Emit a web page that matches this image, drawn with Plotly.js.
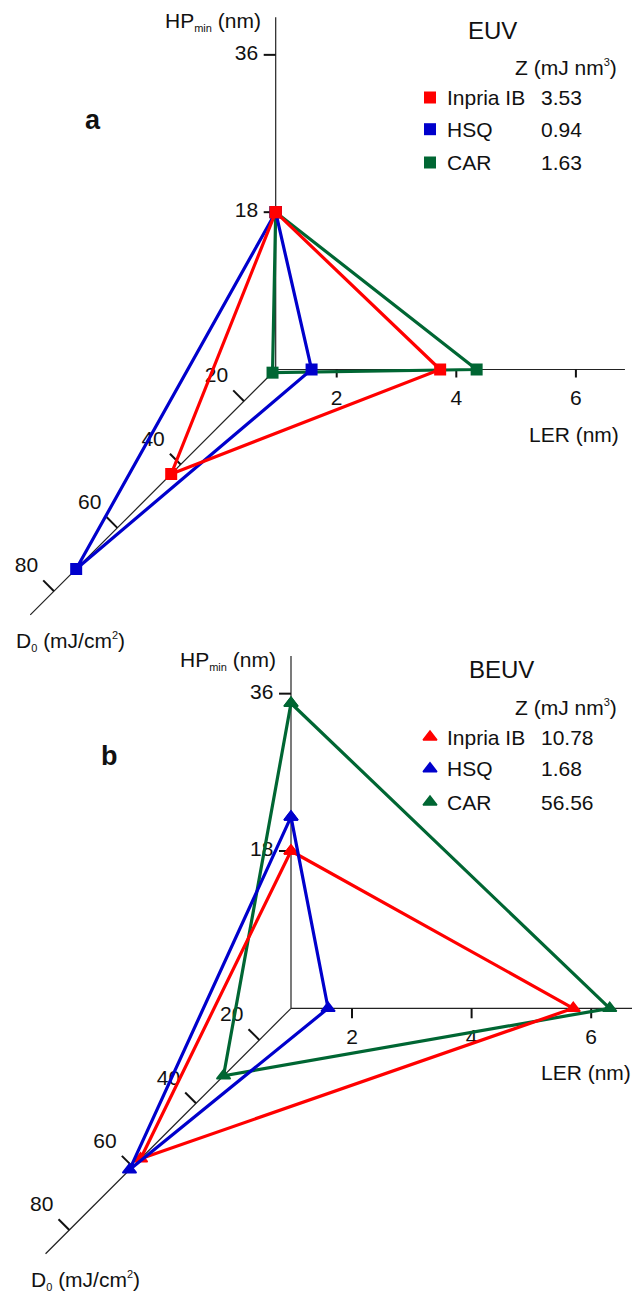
<!DOCTYPE html>
<html>
<head>
<meta charset="utf-8">
<script src="https://cdn.plot.ly/plotly-3.0.1.min.js"></script>
<style>html,body{margin:0;padding:0;overflow:hidden;background:#fff}#chart{width:632px;height:1293px}</style>
</head>
<body>
<div id="chart"></div>
<script>
// ---------------- data ----------------
const materials = ['Inpria IB', 'HSQ', 'CAR'];
const colors = ['#FF0000', '#0000CC', '#006633'];
// panel a : EUV
const euvHP  = [18, 18, 18];        // HPmin (nm)
const euvLER = [3.73, 1.58, 4.34];  // LER (nm)
const euvD0  = [43, 73, 11];        // D0 (mJ/cm2)
const euvZ   = ['3.53', '0.94', '1.63'];
// panel b : BEUV
const beuvHP  = [18, 21.9, 34.9];
const beuvLER = [5.70, 1.60, 6.31];
const beuvD0  = [57.5, 61, 31.3];
const beuvZ   = ['10.78', '1.68', '56.56'];
// axis ticks
const hpTicks  = [18, 36];
const lerTicks = [2, 4, 6];
const d0Ticks  = [20, 40, 60, 80];

// ---------------- layout constants ----------------
const W = 632, H = 1293;
const FONT = 'Liberation Sans, Arial, Helvetica, sans-serif';
const LER0 = 0.98, LERMAX = 6.82, HPMAX = 40.3, D00 = 10, D0MAX = 87.5;
const SL = 59.8, SH = 8.74, SD = 3.167;   // px per unit (LER, HP, D0 along x and y)
const panels = [
  {ox: 275.7, oy: 369.5, xa: 'x', ya: 'y', top: 0, bot: 640, lerTick: 8, dy: 0,
   HP: euvHP, LER: euvLER, D0: euvD0, Z: euvZ, symbol: 'square', msize: 12, mline: 0, order: [2, 1, 0],
   title: 'EUV', titleX: 492.5, letter: 'a', letterX: 93, letterY: 120, hpLabX: 262.7, d0LabX: 14, lerLabX: 574},
  {ox: 291, oy: 1008.3, xa: 'x2', ya: 'y2', top: 640, bot: 1293, lerTick: 10, dy: 639.5,
   HP: beuvHP, LER: beuvLER, D0: beuvD0, Z: beuvZ, symbol: 'triangle-up', msize: 12, mline: 1.5, order: [2, 0, 1],
   title: 'BEUV', titleX: 501.7, letter: 'b', letterX: 109.2, letterY: 756, hpLabX: 278.3, d0LabX: 29.3, lerLabX: 585.5}
];

function projX(ler, hp, d0) { return ler - (d0 - D00) * SD / SL; }
function projY(ler, hp, d0) { return hp - (d0 - D00) * SD / SH; }

const traces = [];
const annotations = [];
const layout = {
  width: W, height: H, autosize: false,
  margin: {l: 0, r: 0, t: 0, b: 0, pad: 0},
  paper_bgcolor: '#fff', plot_bgcolor: 'rgba(0,0,0,0)',
  showlegend: false, hovermode: false,
  annotations: annotations
};

function ann(text, px, py, xanchor, size) {
  return {
    text: text, x: px / W, y: 1 - py / H, xref: 'paper', yref: 'paper',
    xanchor: xanchor, yanchor: 'middle', showarrow: false,
    font: {family: FONT, size: size, color: '#111'}
  };
}

panels.forEach((p, k) => {
  const axX = k === 0 ? 'xaxis' : 'xaxis2';
  const axY = k === 0 ? 'yaxis' : 'yaxis2';
  layout[axX] = {domain: [0, 1], anchor: p.ya, range: [LER0 + (0 - p.ox) / SL, LER0 + (W - p.ox) / SL],
                 visible: false, fixedrange: true};
  layout[axY] = {domain: [1 - p.bot / H, 1 - p.top / H], anchor: p.xa,
                 range: [(p.oy - p.bot) / SH, (p.oy - p.top) / SH], visible: false, fixedrange: true};
  const ax = px => LER0 + (px - p.ox) / SL;
  const ay = py => (p.oy - py) / SH;

  // axis lines
  const lx = [LER0, LER0, null, LER0, LERMAX, null, projX(LER0, 0, D00), projX(LER0, 0, D0MAX)];
  const ly = [0, HPMAX, null, 0, 0, null, projY(LER0, 0, D00), projY(LER0, 0, D0MAX)];
  traces.push({type: 'scatter', mode: 'lines', x: lx, y: ly, xaxis: p.xa, yaxis: p.ya,
               line: {color: '#222', width: 1.2}, hoverinfo: 'skip'});
  // ticks
  const tx = [], ty = [];
  hpTicks.forEach(t => { tx.push(LER0 - 12 / SL, LER0, null); ty.push(t, t, null); });
  lerTicks.forEach(t => { tx.push(t, t, null); ty.push(0, -p.lerTick / SH, null); });
  d0Ticks.forEach(t => {
    const bx = projX(LER0, 0, t), by = projY(LER0, 0, t);
    tx.push(bx, bx - 10.8 / SL, null); ty.push(by, by + 10.8 / SH, null);
  });
  traces.push({type: 'scatter', mode: 'lines', x: tx, y: ty, xaxis: p.xa, yaxis: p.ya,
               line: {color: '#111', width: 2}, hoverinfo: 'skip'});
  // tick labels (drawn below data)
  const kx = [], ky = [], kt = [];
  hpTicks.forEach(t => { kx.push(LER0 - 29.2 / SL); ky.push(t); kt.push(String(t)); });
  lerTicks.forEach(t => { kx.push(t); ky.push(-30 / SH); kt.push(String(t)); });
  d0Ticks.forEach(t => { kx.push(projX(LER0, 0, t) - 27.6 / SL); ky.push(projY(LER0, 0, t) + 24 / SH); kt.push(String(t)); });
  traces.push({type: 'scatter', mode: 'text', x: kx, y: ky, text: kt, textposition: 'middle center',
               textfont: {family: FONT, size: 21, color: '#111'}, xaxis: p.xa, yaxis: p.ya, hoverinfo: 'skip', cliponaxis: false});

  // data triangles
  p.order.forEach(i => {
    const pts = [[LER0, p.HP[i], D00], [p.LER[i], 0, D00], [LER0, 0, p.D0[i]], [LER0, p.HP[i], D00]];
    traces.push({type: 'scatter', mode: 'lines+markers', name: materials[i],
      x: pts.map(q => projX(q[0], q[1], q[2])), y: pts.map(q => projY(q[0], q[1], q[2])),
      xaxis: p.xa, yaxis: p.ya, line: {color: colors[i], width: 3.2},
      marker: {symbol: p.symbol, size: p.msize, color: colors[i], line: {color: colors[i], width: p.mline}},
      hoverinfo: 'skip', cliponaxis: false});
  });

  // legend
  const rowY = [97.5, 129.2, 162.5].map(v => v + p.dy);
  traces.push({type: 'scatter', mode: 'markers', x: rowY.map(() => ax(430)), y: rowY.map(v => ay(v)),
    xaxis: p.xa, yaxis: p.ya, marker: {symbol: p.symbol, size: p.msize, color: colors, line: {color: colors, width: p.mline}},
    hoverinfo: 'skip', cliponaxis: false});
  materials.forEach((m, i) => {
    annotations.push(ann(m, 445, rowY[i], 'left', 21));
    annotations.push(ann(p.Z[i], 539, rowY[i], 'left', 21));
  });
  annotations.push(ann('Z (mJ nm<sup><span style="font-size:11px">3</span></sup>)', 513.3, 67.5 + p.dy, 'left', 21));
  annotations.push(ann(p.title, p.titleX, 30 + p.dy, 'center', 24));
  annotations.push(ann('<b>' + p.letter + '</b>', p.letterX, p.letterY, 'center', 27));
  // axis titles
  annotations.push(ann('HP<sub><span style="font-size:11px">min</span></sub> (nm)', p.hpLabX, p.oy - 348.2, 'right', 21));
  annotations.push(ann('LER (nm)', p.lerLabX, p.oy + 64.5, 'center', 21));
  annotations.push(ann('D<sub><span style="font-size:11px">0</span></sub> (mJ/cm<sup><span style="font-size:11px">2</span></sup>)',
                       p.d0LabX, p.oy + 272, 'left', 21));
});

Plotly.newPlot('chart', traces, layout, {staticPlot: true, displayModeBar: false});
</script>
</body>
</html>
